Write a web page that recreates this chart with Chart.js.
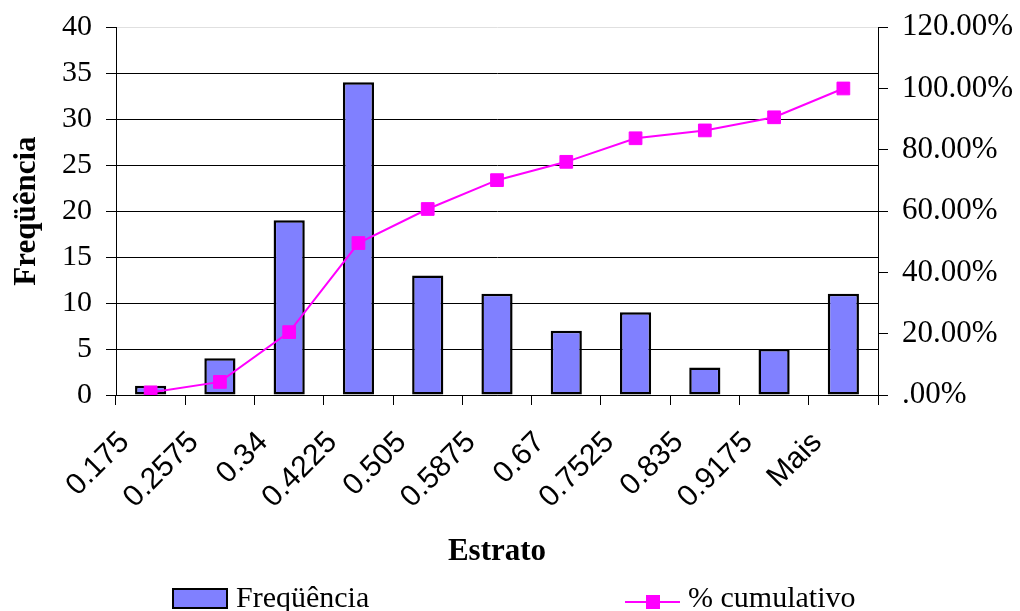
<!DOCTYPE html>
<html>
<head>
<meta charset="utf-8">
<script src="https://cdn.jsdelivr.net/npm/chart.js@4/dist/chart.umd.min.js"></script>
<style>
  html, body { margin: 0; padding: 0; background: #fff; }
  #wrap { width: 1020px; height: 611px; position: relative; }
</style>
</head>
<body>
<div id="wrap"><canvas id="c" width="1020" height="611"></canvas></div>
<script>
const categories = ['0.175', '0.2575', '0.34', '0.4225', '0.505', '0.5875', '0.67', '0.7525', '0.835', '0.9175', 'Mais'];
const frequencia = [1, 4, 19, 34, 13, 11, 7, 9, 3, 5, 11];
const cumulativo = [0.85, 4.27, 20.51, 49.57, 60.68, 70.09, 76.07, 83.76, 86.32, 90.60, 100.00];
const pctTickLabels = ['.00%', '20.00%', '40.00%', '60.00%', '80.00%', '100.00%', '120.00%'];
const seriesNames = ['Freqüência', '% cumulativo'];
const xTitle = 'Estrato';
const yTitle = 'Freqüência';

const SERIF = '"Liberation Serif", "Times New Roman", serif';
const SANS = '"Liberation Sans", Arial, sans-serif';
const BAR_FILL = '#8080FF';
const LINE_COLOR = '#FF00FF';

const legendPlugin = {
  id: 'customLegend',
  afterDraw(chart) {
    const ctx = chart.ctx;
    ctx.save();
    ctx.font = '30px ' + SERIF;
    ctx.textBaseline = 'alphabetic';
    ctx.fillStyle = BAR_FILL;
    ctx.fillRect(173, 589, 54, 19);
    ctx.strokeStyle = '#000';
    ctx.lineWidth = 2;
    ctx.strokeRect(173, 589, 54, 19);
    ctx.fillStyle = '#000';
    ctx.fillText(seriesNames[0], 236, 607);
    ctx.strokeStyle = LINE_COLOR;
    ctx.lineWidth = 2;
    ctx.beginPath();
    ctx.moveTo(625, 602);
    ctx.lineTo(680, 602);
    ctx.stroke();
    ctx.fillStyle = LINE_COLOR;
    ctx.fillRect(646, 595, 14, 14);
    ctx.fillStyle = '#000';
    ctx.fillText(seriesNames[1], 688, 607);
    ctx.restore();
  }
};

new Chart(document.getElementById('c'), {
  type: 'bar',
  data: {
    labels: categories,
    datasets: [
      {
        type: 'line',
        label: seriesNames[1],
        data: cumulativo,
        yAxisID: 'y2',
        borderColor: LINE_COLOR,
        backgroundColor: LINE_COLOR,
        borderWidth: 2,
        pointStyle: 'rect',
        pointRadius: 9,
        pointBorderWidth: 1,
        pointBackgroundColor: LINE_COLOR,
        pointBorderColor: LINE_COLOR,
        tension: 0,
        order: 0
      },
      {
        type: 'bar',
        label: seriesNames[0],
        data: frequencia,
        yAxisID: 'y',
        backgroundColor: BAR_FILL,
        borderColor: '#000',
        borderWidth: 2.5,
        borderSkipped: false,
        categoryPercentage: 1.0,
        barPercentage: 0.45,
        order: 1
      }
    ]
  },
  options: {
    responsive: false,
    animation: false,
    devicePixelRatio: 1,
    layout: { padding: { top: 0, left: 0, right: 0, bottom: 0 } },
    plugins: {
      legend: { display: false },
      tooltip: { enabled: false }
    },
    scales: {
      x: {
        offset: true,
        grid: {
          offset: true,
          drawOnChartArea: false,
          drawTicks: true,
          tickLength: 10,
          color: '#000',
          tickColor: '#000'
        },
        border: { display: true, color: '#000', width: 1 },
        ticks: {
          autoSkip: false,
          maxRotation: 45,
          minRotation: 45,
          padding: 20,
          labelOffset: -26,
          color: '#000',
          font: { family: SANS, size: 30 }
        },
        title: {
          display: true,
          text: xTitle,
          color: '#000',
          font: { family: SERIF, size: 31, weight: 'bold' },
          padding: { top: 0, bottom: 40 }
        },
        afterFit(s) { s.height = 216; }
      },
      y: {
        position: 'left',
        min: 0,
        max: 40,
        ticks: {
          stepSize: 5,
          padding: 14,
          color: '#000',
          font: { family: SERIF, size: 30, lineHeight: 0.85 }
        },
        grid: {
          color: (c) => (c.tick && c.tick.value === 40) ? '#e0e0e0' : '#000',
          tickColor: '#000',
          lineWidth: 1,
          tickLength: 10
        },
        border: { display: true, color: '#000', width: 1 },
        title: {
          display: true,
          text: yTitle,
          color: '#000',
          font: { family: SERIF, size: 31, weight: 'bold' },
          padding: { top: 8, bottom: 0 }
        },
        afterFit(s) { s.width = 116; }
      },
      y2: {
        position: 'right',
        min: 0,
        max: 120,
        ticks: {
          stepSize: 20,
          padding: 14,
          color: '#000',
          font: { family: SERIF, size: 31, lineHeight: 0.85 },
          callback: (v, i) => pctTickLabels[i]
        },
        grid: {
          drawOnChartArea: false,
          tickColor: '#000',
          tickLength: 10
        },
        border: { display: true, color: '#000', width: 1 },
        afterFit(s) { s.width = 142; }
      }
    }
  },
  plugins: [legendPlugin]
});
</script>
</body>
</html>
